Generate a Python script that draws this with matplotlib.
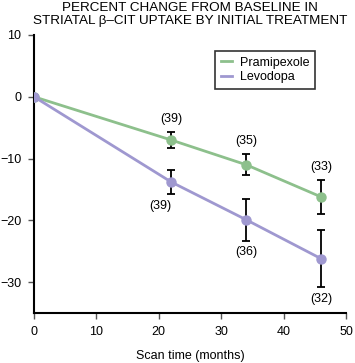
import matplotlib
matplotlib.use("Agg")
import matplotlib.pyplot as plt

plt.rcParams['font.family'] = ['Liberation Sans', 'DejaVu Sans']

months = [0, 22, 34, 46]
prami = [0, -7.0, -11.0, -16.2]
prami_err = [0, 1.3, 1.7, 2.8]
levo = [0, -13.8, -19.9, -26.2]
levo_err = [0, 2.0, 3.4, 4.6]
prami_n = ["", "(39)", "(35)", "(33)"]
levo_n = ["", "(39)", "(36)", "(32)"]
xticks = [0, 10, 20, 30, 40, 50]
yticks = [10, 0, -10, -20, -30]

green = "#8dc08c"
purple = "#9f98d0"

fig = plt.figure(figsize=(3.55, 3.63), dpi=100)
ax = fig.add_axes([0.0958, 0.1377, 0.8788, 0.7659])

for y, e, c, lab in [(prami, prami_err, green, "Pramipexole"), (levo, levo_err, purple, "Levodopa")]:
    ax.plot(months, y, color=c, lw=2, marker='o', ms=6.5, label=lab, zorder=3)
    ax.errorbar(months[1:], y[1:], yerr=e[1:], fmt='none', ecolor='black',
                elinewidth=1.3, capsize=3, capthick=1.3, zorder=2)

for x, y, e, t in zip(months, prami, prami_err, prami_n):
    if t:
        ax.annotate(t, (x, y + e), xytext=(0, 5), textcoords='offset points',
                    ha='center', va='bottom', fontsize=9)
for x, y, e, t in zip(months, levo, levo_err, levo_n):
    if t:
        dx = -8 if x == 22 else 0
        ax.annotate(t, (x, y - e), xytext=(dx, -4), textcoords='offset points',
                    ha='center', va='top', fontsize=9)

ax.set_xlim(0, 50)
ax.set_ylim(-35, 10)
ax.set_xticks(xticks)
ax.set_yticks(yticks)
ax.tick_params(labelsize=9, length=4, width=1, color='#555555', pad=5)
for s in ['top', 'right']:
    ax.spines[s].set_visible(False)
for s in ['left', 'bottom']:
    ax.spines[s].set_linewidth(1.5)
ax.spines['left'].set_bounds(-35, 10)
ax.set_xlabel("Scan time (months)", fontsize=9, labelpad=9)

leg = ax.legend(loc='upper right', bbox_to_anchor=(0.92, 0.965), fontsize=9,
                frameon=True, fancybox=False, edgecolor='black', handlelength=0.9,
                handletextpad=0.6, borderpad=0.45, labelspacing=0.2)
leg.get_frame().set_linewidth(1.2)
for h in leg.legend_handles:
    h.set_marker('')

fig.text(0.535, 0.995, "PERCENT CHANGE FROM BASELINE IN\nSTRIATAL \u03b2\u2013CIT UPTAKE BY INITIAL TREATMENT",
         ha='center', va='top', fontsize=9.7, linespacing=1.1)

fig.savefig("out.png", dpi=100)
